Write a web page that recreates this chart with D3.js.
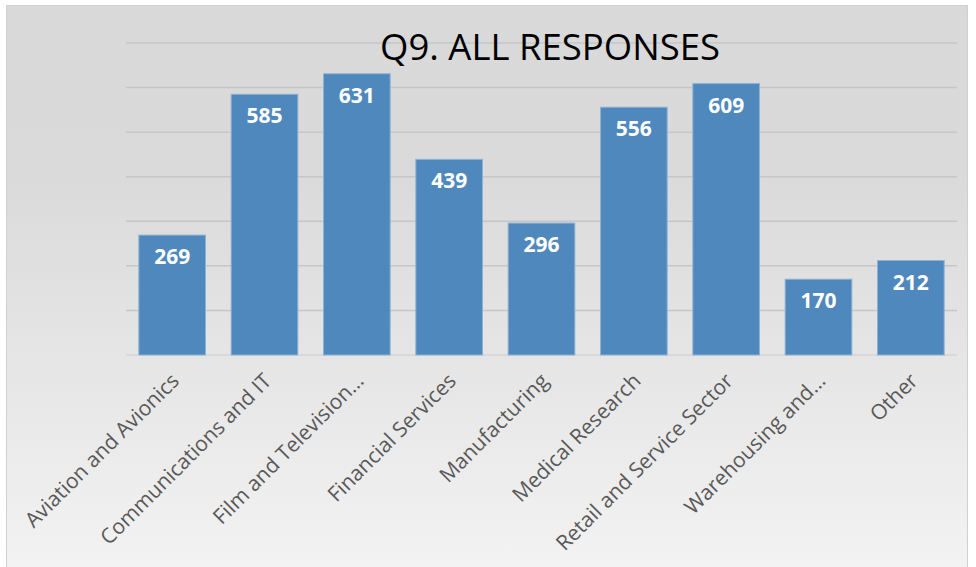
<!DOCTYPE html>
<html>
<head>
<meta charset="utf-8">
<script src="https://cdn.jsdelivr.net/npm/d3@7"></script>
<style>
  body { margin: 0; background: #ffffff; }
  svg { display: block; }
</style>
</head>
<body>
<div id="chart"></div>
<script>
var categories = ["Aviation and Avionics", "Communications and IT", "Film and Television…",
	"Financial Services", "Manufacturing", "Medical Research",
	"Retail and Service Sector", "Warehousing and…", "Other"];
var values = [269, 585, 631, 439, 296, 556, 609, 170, 212];
var gridTicks = [0, 100, 200, 300, 400, 500, 600, 700];
var title = "Q9. ALL RESPONSES";

var width = 976, height = 567;

var svg = d3.select("#chart").append("svg")
	.attr("width", width)
	.attr("height", height);

// background gradient, like the office chart area
var grad = svg.append("defs").append("linearGradient")
	.attr("id", "bg")
	.attr("x1", 0).attr("y1", 0).attr("x2", 0).attr("y2", 1);
grad.append("stop").attr("offset", "0%").attr("stop-color", "#d9d9d9");
grad.append("stop").attr("offset", "30%").attr("stop-color", "#dadada");
grad.append("stop").attr("offset", "100%").attr("stop-color", "#f3f3f3");

svg.append("rect")
	.attr("x", 6.5).attr("y", 5.5)
	.attr("width", 961).attr("height", 570)
	.attr("fill", "url(#bg)")
	.attr("stroke", "#d0d0d0")
	.attr("stroke-width", 1);

var plotLeft = 126, plotRight = 957, plotTop = 43, plotBottom = 355;

var x = d3.scaleBand()
	.domain(categories)
	.range([plotLeft, plotRight])
	.paddingInner(0.278)
	.paddingOuter(0.139);

var y = d3.scaleLinear()
	.domain([0, 700])
	.range([plotBottom, plotTop]);

// gridlines
svg.append("g").selectAll(".grid").data(gridTicks).enter().append("line")
	.attr("class", "grid")
	.attr("x1", plotLeft)
	.attr("x2", plotRight)
	.attr("y1", function(d){ return y(d); })
	.attr("y2", function(d){ return y(d); })
	.attr("stroke", function(d){ return d === 0 ? "#d4d4d4" : "#c6c6c6"; })
	.attr("stroke-width", 1.5);

// title
svg.append("text")
	.attr("x", 550)
	.attr("y", 60)
	.attr("text-anchor", "middle")
	.style("font-family", "'Open Sans', sans-serif")
	.style("font-size", "36.5px")
	.style("fill", "#000000")
	.text(title);

var data = categories.map(function(c, i){ return { name: c, value: values[i] }; });

// bars
svg.append("g").selectAll(".bar").data(data).enter().append("rect")
	.attr("class", "bar")
	.attr("x", function(d){ return x(d.name); })
	.attr("y", function(d){ return y(d.value); })
	.attr("width", x.bandwidth())
	.attr("height", function(d){ return y(0) - y(d.value); })
	.attr("fill", "#4f88bd")
	.attr("stroke", "#8eb2d4")
	.attr("stroke-width", 1);

// value labels
svg.append("g").selectAll(".val").data(data).enter().append("text")
	.attr("class", "val")
	.attr("x", function(d){ return x(d.name) + x.bandwidth() / 2; })
	.attr("y", function(d){ return y(d.value) + 29; })
	.attr("text-anchor", "middle")
	.style("font-family", "'Open Sans', sans-serif")
	.style("font-weight", "bold")
	.style("font-size", "21px")
	.style("fill", "#ffffff")
	.text(function(d){ return d.value; });

// category labels, rotated
svg.append("g").selectAll(".cat").data(categories).enter().append("text")
	.attr("class", "cat")
	.attr("transform", function(d){
		return "translate(" + (x(d) + x.bandwidth() / 2 + 3) + "," + (plotBottom + 22) + ") rotate(-45)";
	})
	.attr("text-anchor", "end")
	.attr("dy", "0.35em")
	.style("font-family", "'Open Sans', sans-serif")
	.style("font-size", "21px")
	.style("fill", "#595959")
	.text(function(d){ return d; });
</script>
</body>
</html>
